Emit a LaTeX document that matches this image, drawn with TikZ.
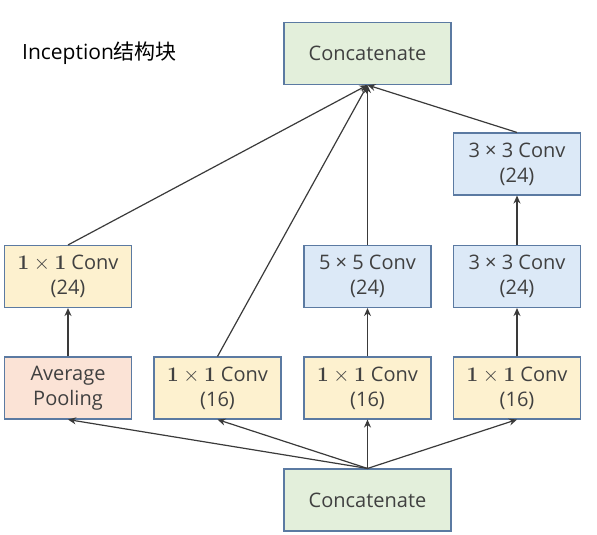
\documentclass[tikz,border=0pt]{standalone}
\usepackage[no-math]{fontspec}
\setmainfont{Open Sans}
\newfontfamily\cjk{Noto Sans CJK SC}
\usetikzlibrary{arrows.meta}

\definecolor{boxline}{HTML}{5B7AA2}
\definecolor{txt}{HTML}{404040}
\definecolor{linecol}{HTML}{3A3A3A}
\definecolor{fillyel}{HTML}{FDF1CF}
\definecolor{fillpink}{HTML}{FBE3D6}
\definecolor{fillblue}{HTML}{DCE9F7}
\definecolor{fillgreen}{HTML}{E3EFDB}

\tikzset{
  box/.style={draw=boxline, line width=1.1pt, minimum width=127pt, minimum height=62pt,
    inner sep=0pt, align=center, text=txt, font=\fontsize{20}{25}\selectfont},
  catbox/.style={box, fill=fillgreen, minimum width=167pt},
  link/.style={draw=linecol, line width=1.2pt, -{Stealth[length=8pt,width=7pt]}}
}

\newcommand{\oneone}{$\mathbf{1}\times\mathbf{1}$ Conv}

\begin{document}
\begin{tikzpicture}[x=1pt,y=-1pt]

  \useasboundingbox (0,0) rectangle (597,535);

  \coordinate (T) at (22,53);
  \coordinate (C0) at (367.5,53.5);
  \coordinate (C1) at (367.5,500);
  \coordinate (A1) at (68,276.5);
  \coordinate (A0) at (68,388);
  \coordinate (B0) at (217.5,388);
  \coordinate (D1) at (367.5,276.5);
  \coordinate (D0) at (367.5,388);
  \coordinate (E2) at (517,164);
  \coordinate (E1) at (517,276.5);
  \coordinate (E0) at (517,388);

  % Draw title
  \node[anchor=west, text=black, inner sep=0pt, font=\fontsize{21}{25}\selectfont] (title) at (T) {Inception{\cjk 结构块}};

  % Draw boxes
  \node[catbox] (cattop) at (C0) {Concatenate};
  \node[catbox] (catbot) at (C1) {Concatenate};
  \node[box, fill=fillpink] (pool) at (A0) {Average\\Pooling};
  \node[box, fill=fillyel] (convA) at (A1) {\oneone\\(24)};
  \node[box, fill=fillyel] (convB) at (B0) {\oneone\\(16)};
  \node[box, fill=fillyel] (convD) at (D0) {\oneone\\(16)};
  \node[box, fill=fillblue] (convF) at (D1) {5 × 5 Conv\\(24)};
  \node[box, fill=fillyel] (convE) at (E0) {\oneone\\(16)};
  \node[box, fill=fillblue] (convG) at (E1) {3 × 3 Conv\\(24)};
  \node[box, fill=fillblue] (convH) at (E2) {3 × 3 Conv\\(24)};

  % Draw links
  \foreach \n in {pool, convB, convD, convE}
    \draw[link] (catbot.north) -- (\n.south);
  \draw[link] (pool) -- (convA);
  \draw[link] (convD) -- (convF);
  \draw[link] (convE) -- (convG);
  \draw[link] (convG) -- (convH);
  \foreach \n in {convA, convB, convF, convH}
    \draw[link] (\n.north) -- (cattop.south);

\end{tikzpicture}
\end{document}
